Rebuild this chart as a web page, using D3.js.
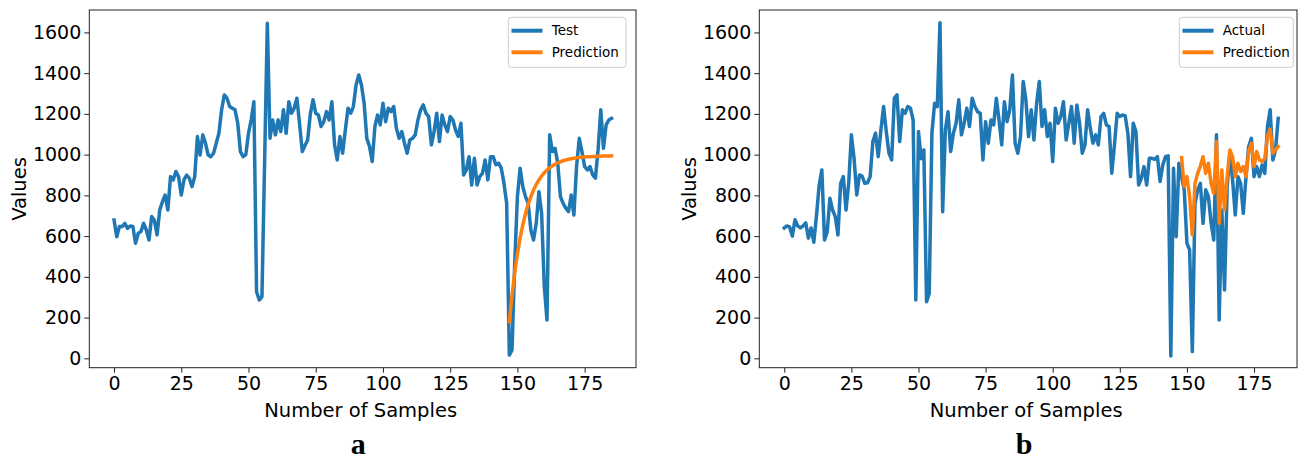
<!DOCTYPE html>
<html>
<head>
<meta charset="utf-8">
<script src="https://cdn.jsdelivr.net/npm/d3@7"></script>
<style>
  body { margin: 0; background: #fff; }
</style>
</head>
<body>
<svg id="chart"></svg>
<script>
// values (index = sample number)
const testA = [
  679, 597, 647, 647, 663, 638, 650, 647, 565, 614,
  622, 663, 630, 581, 696, 679, 606, 728, 769, 802,
  728, 892, 876, 917, 892, 802, 876, 900, 884, 843,
  892, 1089, 998, 1097, 1056, 998, 990, 1007, 1056, 1105,
  1220, 1293, 1277, 1236, 1228, 1220, 1154, 1015, 990, 1000,
  1105, 1170, 1260, 327, 286, 303, 970, 1645, 1080, 1170,
  1097, 1170, 1113, 1220, 1105, 1260, 1203, 1228, 1277, 1150,
  1015, 1045, 1072, 1200, 1269, 1203, 1195, 1138, 1162, 1211,
  1170, 1260, 1048, 974, 1089, 1007, 1120, 1228, 1203, 1236,
  1342, 1391, 1342, 1252, 1080, 1040, 966, 1138, 1195, 1146,
  1252, 1162, 1228, 1211, 1236, 1130, 1080, 1113, 1056, 1007,
  1072, 1080, 1097, 1170, 1220, 1244, 1203, 1187, 1048, 1113,
  1203, 1064, 1195, 1146, 1113, 1187, 1170, 1121, 1089, 1154,
  900, 925, 990, 851, 982, 851, 892, 908, 974, 876,
  990, 990, 950, 958, 933, 860, 761, 16, 41, 467,
  794, 933, 843, 794, 761, 630, 581, 663, 818, 712,
  352, 188, 1097, 1015, 1031, 958, 794, 761, 737, 720,
  802, 704, 941, 1080, 1015, 941, 925, 941, 900, 884,
  1023, 1220, 1031, 1146, 1170, 1178
];
const predStartA = 147;
const predA = [
  180, 311, 421, 513, 590, 655, 710, 756, 794, 826,
  853, 876, 895, 911, 924, 935, 945, 953, 960, 965,
  970, 974, 977, 980, 982, 984, 986, 987, 988, 989,
  990, 991, 991, 992, 992, 993, 993, 993, 994
];

const actualB = [
  640, 650, 645, 600, 680, 650, 640, 650, 665, 590,
  640, 570, 700, 850, 925, 581, 622, 786, 728, 696,
  606, 859, 892, 728, 859, 1097, 982, 802, 900, 895,
  859, 862, 892, 1064, 1105, 990, 1121, 1236, 1113, 1007,
  974, 1277, 1293, 1064, 1220, 1203, 1236, 1228, 1170, 286,
  1113, 980, 1023, 278, 319, 1105, 1252, 1236, 1648, 720,
  1121, 1211, 1015, 1105, 1154, 1269, 1097, 1154, 1228, 1138,
  1277, 1236, 1211, 1203, 974, 1162, 1056, 1170, 1146, 1277,
  1170, 1048, 1260, 1162, 1220, 1391, 1056, 1007, 1089, 1359,
  1269, 1089, 1220, 1072, 1252, 1359, 1138, 1220, 1089, 1154,
  966, 1228, 1154, 1187, 1260, 1072, 1154, 1236, 1056, 1244,
  1154, 1007, 1048, 1220, 1130, 1056, 1097, 1048, 1187, 1203,
  1146, 1138, 909, 1048, 1203, 1187, 1195, 1190, 1105, 892,
  1154, 1113, 851, 884, 941, 851, 982, 982, 977, 990,
  868, 949, 990, 994, 11, 933, 597, 958, 892, 827,
  565, 532, 33, 761, 827, 859, 663, 827, 794, 663,
  581, 1097, 188, 728, 336, 843, 1007, 876, 704, 892,
  859, 712, 892, 1040, 1080, 892, 941, 892, 949, 908,
  1138, 1220, 974, 1023, 1178
];
const predStartB = 148;
const predB = [
  985, 843, 892, 794, 606, 859, 908, 944, 990, 908,
  958, 859, 810, 1064, 663, 925, 728, 892, 1023, 990,
  892, 958, 917, 941, 892, 1015, 1056, 941, 1015, 974,
  966, 982, 1089, 1125, 1007, 1023, 1040
];

const xTicks = [0, 25, 50, 75, 100, 125, 150, 175];
const yTicks = [0, 200, 400, 600, 800, 1000, 1200, 1400, 1600];

const width = 1298;
const height = 460;
const blue = "#1f77b4";
const orange = "#ff7f0e";
const sans = "'DejaVu Sans', sans-serif";

const svg = d3.select("#chart")
  .attr("width", width)
  .attr("height", height);

const styleAxis = ax => {
  ax.select(".domain").remove();
  ax.selectAll("text")
    .style("font-family", sans)
    .style("font-size", "19px")
    .attr("fill", "#000");
  ax.selectAll("line").attr("stroke", "#222");
};

const drawPanel = (p) => {
  const x = d3.scaleLinear().domain(p.xDomain).range([p.left, p.right]);
  const y = d3.scaleLinear().domain([-46, 1710]).range([367.7, 10]);

  const g = svg.append("g");

  // y axis
  g.append("g")
    .attr("transform", `translate(${p.left},0)`)
    .call(d3.axisLeft(y).tickValues(yTicks).tickFormat(d3.format("d"))
      .tickSize(5).tickSizeOuter(0).tickPadding(3))
    .call(styleAxis);

  // x axis
  g.append("g")
    .attr("transform", `translate(0,367.7)`)
    .call(d3.axisBottom(x).tickValues(xTicks).tickFormat(d3.format("d"))
      .tickSize(5).tickSizeOuter(0).tickPadding(4))
    .call(styleAxis);

  const line = d3.line()
    .x(d => x(d[0]))
    .y(d => y(d[1]));

  const series = [
    { data: p.actual.map((v, i) => [i, v]), color: blue },
    { data: p.pred.map((v, i) => [i + p.predStart, v]), color: orange }
  ];

  g.selectAll("path.series")
    .data(series)
    .enter()
    .append("path")
    .attr("class", "series")
    .attr("d", s => line(s.data))
    .attr("fill", "none")
    .attr("stroke", s => s.color)
    .attr("stroke-width", 3.5)
    .attr("stroke-linejoin", "round")
    .attr("stroke-linecap", "square");

  // frame
  g.append("rect")
    .attr("x", p.left)
    .attr("y", 10)
    .attr("width", p.right - p.left)
    .attr("height", 357.7)
    .attr("fill", "none")
    .attr("stroke", "#222")
    .attr("stroke-width", 1);

  // axis titles
  g.append("text")
    .text("Number of Samples")
    .attr("x", (p.left + p.right) / 2 - 2)
    .attr("y", 416.7)
    .attr("text-anchor", "middle")
    .style("font-family", sans)
    .style("font-size", "19.5px");

  g.append("text")
    .text("Values")
    .attr("transform", `translate(${p.left - 63.5},189) rotate(-90)`)
    .attr("text-anchor", "middle")
    .style("font-family", sans)
    .style("font-size", "19.5px");

  // legend
  const lg = g.append("g").attr("transform", `translate(${p.legendX},17.3)`);
  lg.append("rect")
    .attr("width", p.legendW)
    .attr("height", 50)
    .attr("rx", 3)
    .attr("fill", "#fff")
    .attr("fill-opacity", 0.8)
    .attr("stroke", "#ccc");
  p.labels.forEach((label, i) => {
    const ly = 13.4 + i * 21.6;
    lg.append("line")
      .attr("x1", 3.2).attr("x2", 34.2)
      .attr("y1", ly).attr("y2", ly)
      .attr("stroke", series[i].color)
      .attr("stroke-width", 4);
    lg.append("text")
      .text(label)
      .attr("x", 43.4)
      .attr("y", ly)
      .attr("dy", "0.35em")
      .style("font-family", sans)
      .style("font-size", "13.5px");
  });

  // panel letter
  svg.append("text")
    .text(p.letter)
    .attr("x", p.letterX)
    .attr("y", 454)
    .attr("text-anchor", "middle")
    .style("font-family", "'Liberation Serif', serif")
    .style("font-weight", "bold")
    .style("font-size", "30px");
};

drawPanel({
  left: 89.3, right: 636, xDomain: [-9.2, 194.1],
  actual: testA, pred: predA, predStart: predStartA,
  labels: ["Test", "Prediction"], legendX: 508.3, legendW: 117.7,
  letter: "a", letterX: 358.3
});

drawPanel({
  left: 759.3, right: 1297, xDomain: [-9.3, 191.0],
  actual: actualB, pred: predB, predStart: predStartB,
  labels: ["Actual", "Prediction"], legendX: 1179.3, legendW: 114,
  letter: "b", letterX: 1024
});
</script>
</body>
</html>
